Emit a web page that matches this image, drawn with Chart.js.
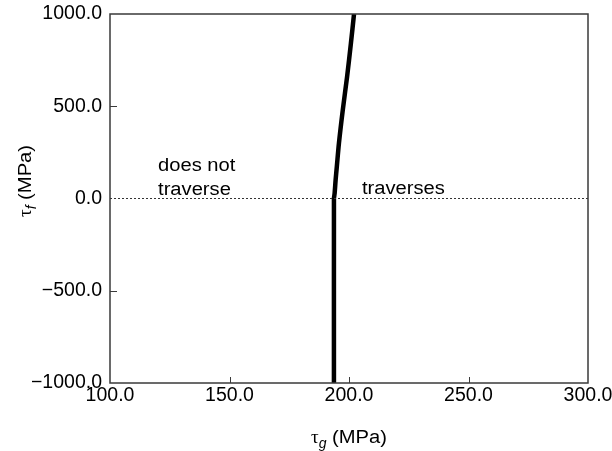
<!DOCTYPE html>
<html>
<head>
<meta charset="utf-8">
<script src="https://cdn.jsdelivr.net/npm/chart.js@4.4.1/dist/chart.umd.min.js"></script>
<style>
html,body{margin:0;padding:0;background:#fff;}
#wrap{width:612px;height:451px;position:relative;}
</style>
</head>
<body>
<div id="wrap"><canvas id="c" width="612" height="451"></canvas></div>
<script>
// ---- data ----
const curveY = [-1000, 0, 10, 30, 100, 172, 301, 480, 660, 841, 1000];
const curveX = [193.7, 193.7, 193.8, 194.0, 194.4, 194.9, 195.8, 197.4, 199.2, 200.8, 202.1];
const zeroLineX = [100, 300];
const zeroLineY = [0, 0];
const xTickValues = [100, 150, 200, 250, 300];
const yTickValues = [-1000, -500, 0, 500, 1000];
const annotations = [
  {text: 'does not', x: 120.1, y: 149},
  {text: 'traverse', x: 120.1, y: 20},
  {text: 'traverses', x: 205.4, y: 24}
];
const xTitle = {sym: 'τ', sub: 'g', rest: ' (MPa)'};
const yTitle = {sym: 'τ', sub: 'f', rest: ' (MPa)'};

const FONT = '"Liberation Sans", Arial, Helvetica, sans-serif';

const curvePts = curveX.map((x, i) => ({x: x, y: curveY[i]}));
const zeroPts = zeroLineX.map((x, i) => ({x: x, y: zeroLineY[i]}));

const framePlugin = {
  id: 'frame',
  afterDraw(chart) {
    const ctx = chart.ctx;
    const a = chart.chartArea;
    const xs = chart.scales.x, ys = chart.scales.y;
    ctx.save();
    // frame
    ctx.strokeStyle = '#3a3a3a';
    ctx.lineWidth = 1.5;
    ctx.strokeRect(a.left, a.top, a.right - a.left, a.bottom - a.top);
    // inward ticks
    ctx.lineWidth = 1;
    ctx.beginPath();
    xTickValues.forEach(v => {
      const px = Math.round(xs.getPixelForValue(v)) + 0.5;
      if (px <= a.left + 1 || px >= a.right - 1) return;
      ctx.moveTo(px, a.bottom);
      ctx.lineTo(px, a.bottom - 6);
    });
    yTickValues.forEach(v => {
      const py = Math.round(ys.getPixelForValue(v)) + 0.5;
      if (py <= a.top + 1 || py >= a.bottom - 1 || v === 0) return;
      ctx.moveTo(a.left, py);
      ctx.lineTo(a.left + 7, py);
    });
    ctx.stroke();

    // annotations
    ctx.fillStyle = '#000';
    ctx.font = '18px ' + FONT;
    ctx.textBaseline = 'alphabetic';
    ctx.textAlign = 'left';
    annotations.forEach(t => {
      const px = xs.getPixelForValue(t.x);
      const py = ys.getPixelForValue(t.y);
      ctx.save();
      ctx.translate(px, py);
      ctx.scale(1.12, 1);
      ctx.fillText(t.text, 0, 0);
      ctx.restore();
    });

    // axis titles
    function drawTitle(t) {
      ctx.font = '19px "Liberation Serif", serif';
      const w1 = ctx.measureText(t.sym).width;
      ctx.font = 'italic 14px ' + FONT;
      const w2 = ctx.measureText(t.sub).width;
      ctx.font = '18px ' + FONT;
      const w3 = ctx.measureText(t.rest).width * 1.12;
      const total = w1 + w2 + w3;
      let x = -total / 2;
      ctx.font = '19px "Liberation Serif", serif';
      ctx.fillText(t.sym, x, 0); x += w1;
      ctx.font = 'italic 14px ' + FONT;
      ctx.fillText(t.sub, x, 5); x += w2;
      ctx.font = '18px ' + FONT;
      ctx.save(); ctx.translate(x, 0); ctx.scale(1.12, 1); ctx.fillText(t.rest, 0, 0); ctx.restore();
    }
    ctx.save();
    ctx.translate((a.left + a.right) / 2, 443);
    drawTitle(xTitle);
    ctx.restore();
    ctx.save();
    ctx.translate(31, 181);
    ctx.rotate(-Math.PI / 2);
    drawTitle(yTitle);
    ctx.restore();
    ctx.restore();
  }
};

new Chart(document.getElementById('c'), {
  type: 'scatter',
  data: {
    datasets: [
      {
        data: zeroPts,
        showLine: true,
        borderColor: '#333',
        borderWidth: 1,
        borderDash: [2, 2],
        pointRadius: 0,
        fill: false
      },
      {
        data: curvePts,
        showLine: true,
        borderColor: '#000',
        borderWidth: 4.5,
        pointRadius: 0,
        tension: 0.3,
        fill: false
      }
    ]
  },
  options: {
    responsive: false,
    animation: false,
    devicePixelRatio: 1,
    layout: {padding: {top: 14, right: 24, left: 0, bottom: 0}},
    plugins: {legend: {display: false}, tooltip: {enabled: false}},
    scales: {
      x: {
        type: 'linear',
        min: 100, max: 300,
        afterBuildTicks(s) { s.ticks = xTickValues.map(v => ({value: v})); },
        afterFit(s) { s.height = 68; s.paddingLeft = 0; s.paddingRight = 0; },
        grid: {display: false, drawTicks: false},
        border: {display: false},
        ticks: {
          autoSkip: false, maxRotation: 0, padding: 1,
          color: '#000',
          font: {family: FONT, size: 19.5},
          callback: v => Number(v).toFixed(1)
        }
      },
      y: {
        type: 'linear',
        min: -1000, max: 1000,
        afterBuildTicks(s) { s.ticks = yTickValues.map(v => ({value: v})); },
        afterFit(s) { s.width = 110; s.paddingTop = 0; s.paddingBottom = 0; },
        grid: {display: false, drawTicks: false},
        border: {display: false},
        ticks: {
          autoSkip: false, padding: 8,
          color: '#000',
          font: {family: FONT, size: 19.5},
          callback: v => Number(v).toFixed(1).replace('-', '\u2212')
        }
      }
    }
  },
  plugins: [framePlugin]
});
</script>
</body>
</html>
